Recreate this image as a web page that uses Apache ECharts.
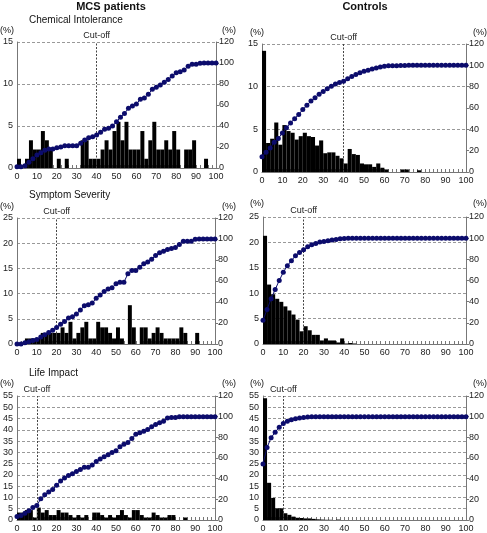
<!DOCTYPE html>
<html>
<head>
<meta charset="utf-8">
<script src="https://cdn.jsdelivr.net/npm/echarts@6/dist/echarts.min.js"></script>
<style>html,body{margin:0;padding:0;background:#fff}#c{width:487px;height:533px}</style>
</head>
<body>
<div id="c"></div>
<script>
// score positions of the cumulative points (0..100 step 2)
const scores = [0,2,4,6,8,10,12,14,16,18,20,22,24,26,28,30,32,34,36,38,40,42,44,46,48,50,52,54,56,58,60,62,64,66,68,70,72,74,76,78,80,82,84,86,88,90,92,94,96,98,100];
// histogram bins start at 0,2,...,98
const binStarts = scores.slice(0, 50);

// Chemical Intolerance
const ciMcsBars = [1.1,0,1.1,3.3,2.2,2.2,4.4,3.3,2.2,0, 1.1,0,1.1,0,0,0,3.3,3.3,1.1,1.1, 1.1,2.2,3.3,2.2,4.4,5.5,3.3,5.5,2.2,2.2, 2.2,4.4,1.1,3.3,5.5,2.2,2.2,3.3,2.2,4.4, 2.2,0,2.2,2.2,3.3,0,0,1.1,0,0];
const ciMcsCum = [1.1,1.1,2.2,5.5,8.9,12.4,14.6,17,18,18, 19.4,20,21.3,21.3,21.3,21.3,23.5,26.7,28.9,29.8, 31.4,34,36.8,37.8,40,44,48.3,52,56.8,59, 61,65.4,66.7,70.2,75,76.8,79,81.6,84.4,87.6, 90.8,91.7,93.3,97,98.8,98.8,99.7,100,100,100, 100];
const ciCtlBars = [14.2,3.4,3.9,5.8,3.2,5.5,4.8,4.6,3.8,4.2, 4.6,4.2,4.1,3.1,3.7,2.2,2.3,2.3,1.9,1.6, 1.0,2.7,2.1,2.0,1.0,0.9,0.9,0.6,1.0,0.5, 0.3,0,0,0,0.3,0.3,0,0,0.2,0, 0,0,0,0,0,0,0,0,0,0];
const ciCtlCum = [14.4,18.5,22.5,28,31.5,36.5,41.5,46,50,54, 58.5,62.5,66.5,69.5,73,75.5,78,80.5,82.5,84, 85,87.5,89.5,91.5,93,94.5,95.5,96.5,97.5,98.5, 99.2,99.5,99.6,99.6,99.8,99.9,100,100,100,100, 100,100,100,100,100,100,100,100,100,100, 100];

// Symptom Severity
const ssMcsBars = [0,0,1.1,1.1,1.1,1.1,2.2,2.2,2.2,2.2, 2.2,3.3,2.2,4.4,1.1,2.2,3.3,4.4,1.1,1.1, 4.4,3.3,3.3,2.2,1.1,3.3,1.1,0,7.7,3.3, 0,3.3,3.3,1.1,2.2,3.3,2.2,1.1,1.1,1.1, 1.1,3.3,2.2,0,0,2.2,0,0,0,0];
const ssMcsCum = [0,0,1.1,2.2,3.3,4.4,6.6,8.8,11,13.1, 15.7,18.9,21.4,24.7,25.9,28.5,32.3,36.5,37.4,39, 43.5,46.7,49.9,52.5,53.5,57.3,58.8,58.8,66.9,70, 70,73.2,76.5,78,80.6,84.4,87,88.3,89.9,90.9, 91.8,94.7,97.9,97.9,97.9,99.8,100,100,100,100, 100];
const ssCtlBars = [21.3,11.7,9.8,8.9,8.3,7.4,6.6,5.8,4.8,2.5, 3.5,2.7,1.8,1.8,0.7,1.1,0.7,0.7,0.3,1.1, 0.1,0.2,0.1,0,0,0,0,0,0,0, 0,0,0,0,0,0,0,0,0,0, 0,0,0,0,0,0,0,0,0,0];
const ssCtlCum = [22.5,32.5,42.8,51.5,60,67.8,74,78.7,83.4,86.5, 89,91.8,93.7,95,96.3,96.8,97.5,98.2,98.8,99.5, 99.7,100,100,100,100,100,100,100,100,100, 100,100,100,100,100,100,100,100,100,100, 100,100,100,100,100,100,100,100,100,100, 100];

// Life Impact
const liMcsBars = [3.3,3.3,4.4,4.4,1.1,5.5,3.3,4.4,2.2,2.2, 4.4,3.3,3.3,2.2,1.1,2.2,1.1,2.2,0,3.3, 3.3,2.2,1.1,2.2,1.1,2.2,4.4,2.2,1.1,4.4, 4.4,2.2,1.1,1.1,3.3,2.2,1.1,1.1,2.2,2.2, 0,0,1.1,0,0,0,0,0,0,0];
const liMcsCum = [3.3,4.4,6.6,8.9,12.2,14,20.5,24.5,27,29.5, 33.6,37.8,40.6,43.1,44.8,47,48.9,51.1,51.1,53.3, 56.5,59,61.2,63.2,65.4,67,70.8,73.3,75,78.8, 82.9,84.4,86,87.6,90.2,92.4,94,95.5,98.8,99.3, 99.3,100,100,100,100,100,100,100,100,100, 100];
const liCtlBars = [54,16.5,9.8,5.2,5.2,3.0,2.3,1.5,1.0,0.9, 0.7,0.7,0.5,0.3,0.2,0.1,0.1,0,0.2,0, 0,0,0,0,0,0,0,0,0,0, 0,0,0,0,0,0,0,0,0,0, 0,0,0,0,0,0,0,0,0,0];
const liCtlCum = [54.3,70.2,79.7,85,89.8,93.3,95.5,97.1,98,98.7, 99.3,99.6,99.8,99.9,100,100,100,100,100,100, 100,100,100,100,100,100,100,100,100,100, 100,100,100,100,100,100,100,100,100,100, 100,100,100,100,100,100,100,100,100,100, 100];

const leftMax = [15, 15, 25, 25, 55, 55];
const cutOffs = [40, 40, 20, 20, 10, 10];
const panelBars = [ciMcsBars, ciCtlBars, ssMcsBars, ssCtlBars, liMcsBars, liCtlBars];
const panelCum = [ciMcsCum, ciCtlCum, ssMcsCum, ssCtlCum, liMcsCum, liCtlCum];

const gridBoxes = [
  {left:13, top:42, width:203, height:126},
  {left:262, top:44, width:206, height:128},
  {left:13, top:218, width:202, height:126},
  {left:263, top:217, width:203, height:127},
  {left:13, top:396, width:202, height:126},
  {left:263, top:396, width:203, height:126}
];

const FONT = "'Liberation Sans', Arial, sans-serif";
const NAVY = '#0c0c6c';
const grid = [], xAxis = [], yAxis = [], series = [];

gridBoxes.forEach((g, i) => {
  grid.push(Object.assign({containLabel:false}, g));
  xAxis.push({
    gridIndex:i, type:'value', min:0, max:100, interval:10,
    axisLine:{show:true, lineStyle:{color:'#777', width:1}},
    axisTick:{show:true, inside:true, length:3, lineStyle:{color:'#777'}},
    minorTick:{show:true, splitNumber:5, length:3, lineStyle:{color:'#777'}},
    axisLabel:{fontSize:9, color:'#222', margin:4, fontFamily:FONT},
    splitLine:{show:false}
  });
  yAxis.push({
    gridIndex:i, type:'value', position:'left', min:0, max:leftMax[i], interval:5,
    axisLine:{show:true, lineStyle:{color:'#777'}},
    axisTick:{show:false},
    axisLabel:{fontSize:9, color:'#222', margin:4, fontFamily:FONT},
    splitLine:{show:true, lineStyle:{color:'#999', type:[3,2], width:1}}
  });
  yAxis.push({
    gridIndex:i, type:'value', position:'right', min:0, max:120, interval:20,
    axisLine:{show:true, lineStyle:{color:'#777'}},
    axisTick:{show:true, length:3, lineStyle:{color:'#777'}},
    axisLabel:{fontSize:9, color:'#222', margin:3, fontFamily:FONT},
    splitLine:{show:false}
  });
  series.push({
    type:'custom', xAxisIndex:i, yAxisIndex:2*i, silent:true, z:2,
    data: binStarts.map((s, j) => [s, panelBars[i][j]]),
    renderItem: function (params, api) {
      const s = api.value(0), v = api.value(1);
      if (!v) return null;
      const p0 = api.coord([s, v]);
      const p1 = api.coord([s + 2, 0]);
      return {type:'rect', shape:{x:p0[0], y:p0[1], width:p1[0]-p0[0], height:p1[1]-p0[1]}, style:{fill:'#000'}};
    }
  });
  series.push({
    type:'line', xAxisIndex:i, yAxisIndex:2*i+1, z:5,
    data: scores.map((s, j) => [s, panelCum[i][j]]),
    symbol:'circle', symbolSize:5, showSymbol:true,
    lineStyle:{color:NAVY, width:1},
    itemStyle:{color:NAVY},
    markLine:{
      silent:true, symbol:['none','none'],
      lineStyle:{color:'#444', type:[2,1.5], width:1},
      label:{show:true, position:'end', formatter:'Cut-off', color:'#222', fontSize:9, fontFamily:FONT, distance:2},
      data:[{xAxis:cutOffs[i]}]
    }
  });
});

function txt(x, y, t, opts) {
  return {type:'text', x:x, y:y, style:Object.assign({text:t, fill:'#111', font:'9px ' + FONT, textAlign:'left', textVerticalAlign:'middle'}, opts || {})};
}
const R = {textAlign:'right'};
const graphic = [
  txt(111, 7, 'MCS patients', {font:'bold 11px ' + FONT, textAlign:'center'}),
  txt(365, 7, 'Controls', {font:'bold 11px ' + FONT, textAlign:'center'}),
  txt(29, 20, 'Chemical Intolerance', {font:'10px ' + FONT}),
  txt(29, 195, 'Symptom Severity', {font:'10px ' + FONT}),
  txt(29, 373, 'Life Impact', {font:'10px ' + FONT}),
  txt(0, 31, '(%)'), txt(236, 31, '(%)', R),
  txt(250, 33, '(%)'), txt(487, 33, '(%)', R),
  txt(0, 207, '(%)'), txt(236, 207, '(%)', R),
  txt(250, 204, '(%)'), txt(487, 204, '(%)', R),
  txt(0, 384, '(%)'), txt(236, 384, '(%)', R),
  txt(250, 384, '(%)'), txt(487, 384, '(%)', R)
];

const chart = echarts.init(document.getElementById('c'), null, {renderer:'canvas'});
chart.setOption({
  animation:false,
  backgroundColor:'#fff',
  textStyle:{fontFamily:FONT},
  grid:grid, xAxis:xAxis, yAxis:yAxis, series:series, graphic:graphic
});
</script>
</body>
</html>
